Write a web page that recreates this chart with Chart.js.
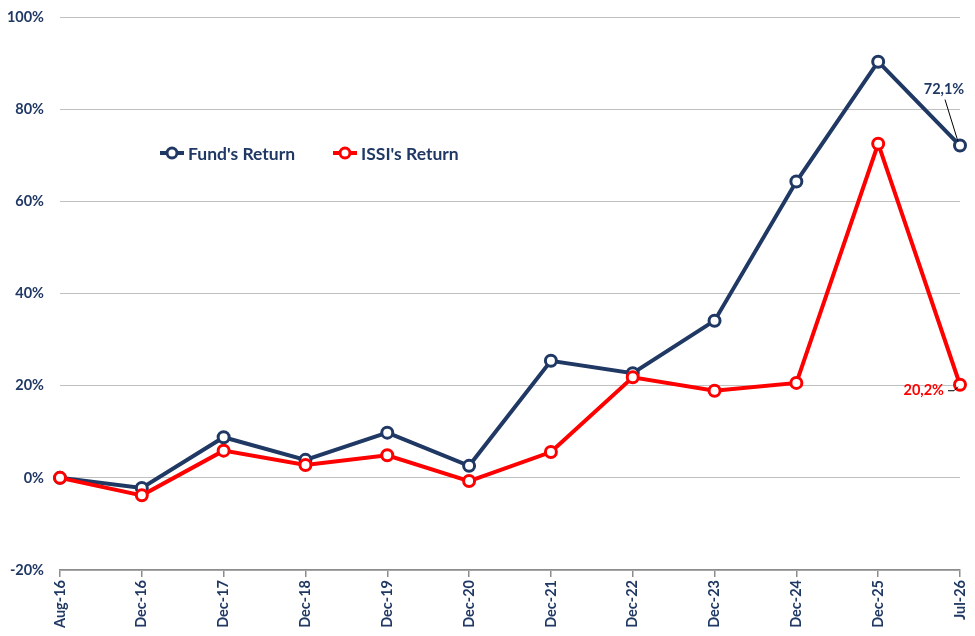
<!DOCTYPE html>
<html>
<head>
<meta charset="utf-8">
<script src="https://cdn.jsdelivr.net/npm/chart.js@4.4.1/dist/chart.umd.min.js"></script>
<style>
html,body{margin:0;padding:0;background:#fff;}
#wrap{width:975px;height:636px;position:relative;}
</style>
</head>
<body>
<div id="wrap"><canvas id="c" width="975" height="636"></canvas></div>
<script>
const categories = ['Aug-16','Dec-16','Dec-17','Dec-18','Dec-19','Dec-20','Dec-21','Dec-22','Dec-23','Dec-24','Dec-25','Jul-26'];
const fundReturn = [0, -2.2, 8.8, 3.9, 9.8, 2.6, 25.4, 22.7, 34.1, 64.3, 90.3, 72.1];
const issiReturn = [0, -3.8, 5.9, 2.8, 4.9, -0.7, 5.6, 21.8, 18.9, 20.6, 72.5, 20.2];
const seriesNames = ["Fund's Return", "ISSI's Return"];
const yTicks = [-20, 0, 20, 40, 60, 80, 100];

const NAVY = '#203864';
const RED = '#FF0000';
const FONT = 'Lato, "Open Sans", sans-serif';

function fmt(v){ return v.toFixed(1).replace('.', ',') + '%'; }

const overlay = {
  id: 'overlay',
  afterDatasetsDraw(chart) {
    const ctx = chart.ctx;
    const items = [
      {x: 160, y: 153, color: NAVY, name: seriesNames[0]},
      {x: 333, y: 153, color: RED, name: seriesNames[1]}
    ];
    ctx.save();
    items.forEach(it => {
      ctx.strokeStyle = it.color;
      ctx.lineWidth = 4;
      ctx.beginPath();
      ctx.moveTo(it.x, it.y);
      ctx.lineTo(it.x + 24, it.y);
      ctx.stroke();
      ctx.beginPath();
      ctx.arc(it.x + 12, it.y, 5, 0, Math.PI * 2);
      ctx.fillStyle = '#fff';
      ctx.fill();
      ctx.lineWidth = 3;
      ctx.stroke();
      ctx.fillStyle = NAVY;
      ctx.font = 'bold 17.5px ' + FONT;
      ctx.textAlign = 'left';
      ctx.textBaseline = 'middle';
      ctx.fillText(it.name, it.x + 28, it.y + 1);
    });
    const last = categories.length - 1;
    const m0 = chart.getDatasetMeta(0).data[last];
    const m1 = chart.getDatasetMeta(1).data[last];
    ctx.font = 'bold 14.5px ' + FONT;
    ctx.textBaseline = 'middle';
    ctx.fillStyle = NAVY;
    ctx.textAlign = 'center';
    ctx.fillText(fmt(fundReturn[last]), m0.x - 16, m0.y - 56);
    ctx.strokeStyle = '#000';
    ctx.lineWidth = 1;
    ctx.beginPath();
    ctx.moveTo(m0.x - 15, m0.y - 46);
    ctx.lineTo(m0.x - 2, m0.y - 4);
    ctx.stroke();
    ctx.fillStyle = RED;
    ctx.textAlign = 'right';
    ctx.fillText(fmt(issiReturn[last]), m1.x - 16, m1.y + 6);
    ctx.beginPath();
    ctx.moveTo(m1.x - 12, m1.y + 6);
    ctx.lineTo(m1.x - 6, m1.y + 6);
    ctx.lineTo(m1.x - 2, m1.y + 2);
    ctx.stroke();
    ctx.restore();
  }
};

new Chart(document.getElementById('c'), {
  type: 'line',
  data: {
    labels: categories,
    datasets: [
      {
        label: seriesNames[0], data: fundReturn,
        borderColor: NAVY, borderWidth: 4,
        pointRadius: 5.5, pointBorderWidth: 3, pointBackgroundColor: '#fff', pointBorderColor: NAVY,
        tension: 0, order: 2
      },
      {
        label: seriesNames[1], data: issiReturn,
        borderColor: RED, borderWidth: 4,
        pointRadius: 5.5, pointBorderWidth: 3, pointBackgroundColor: '#fff', pointBorderColor: RED,
        tension: 0, order: 1
      }
    ]
  },
  options: {
    responsive: false,
    animation: false,
    devicePixelRatio: 1,
    layout: { padding: { top: 17, right: 15, left: 0, bottom: 0 } },
    plugins: { legend: { display: false }, tooltip: { enabled: false } },
    scales: {
      x: {
        offset: false,
        grid: { display: true, drawOnChartArea: false, drawTicks: true, tickLength: 7, color: '#8c8c8c', lineWidth: 1.5 },
        border: { display: true, color: '#8c8c8c', width: 1.5 },
        ticks: {
          color: NAVY, font: { family: FONT, size: 14.5, weight: 'bold' },
          minRotation: 90, maxRotation: 90, padding: 3, autoSkip: false
        },
        afterFit(s) { s.height = 66; s.paddingLeft = 0; s.paddingRight = 0; s.paddingTop = 0; s.paddingBottom = 0; }
      },
      y: {
        min: -20, max: 100,
        afterBuildTicks(s) { s.ticks = yTicks.map(v => ({ value: v })); },
        grid: { color: '#c0c0c0', lineWidth: 1, drawTicks: false },
        border: { display: false },
        ticks: {
          color: NAVY, font: { family: FONT, size: 14.5, weight: 'bold' },
          padding: 16,
          callback: v => v + '%'
        },
        afterFit(s) { s.width = 60; s.paddingLeft = 0; s.paddingRight = 0; s.paddingTop = 0; s.paddingBottom = 0; }
      }
    }
  },
  plugins: [overlay]
});
</script>
</body>
</html>
